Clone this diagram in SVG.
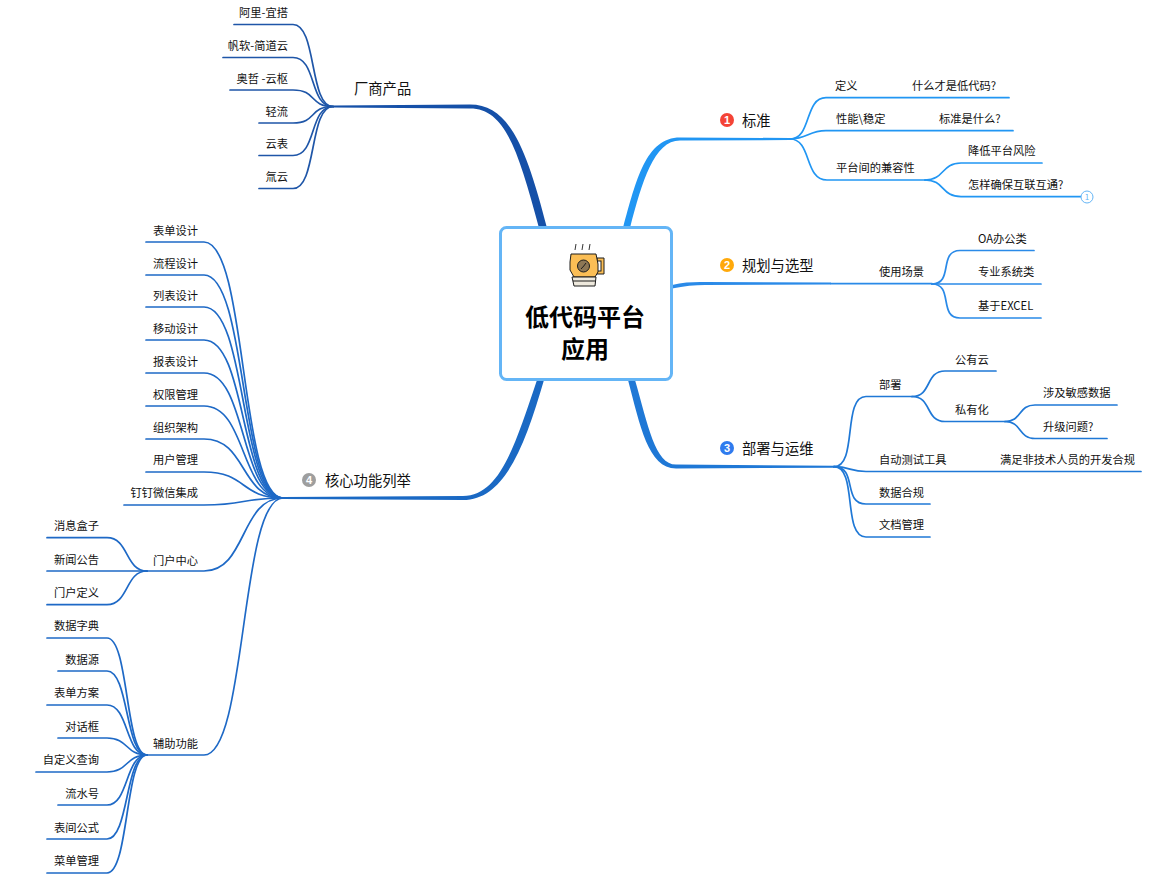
<svg xmlns="http://www.w3.org/2000/svg" width="1165" height="882" viewBox="0 0 1165 882">
<style>
text{font-family:"Noto Sans CJK SC","Noto Sans",sans-serif;font-size:11.25px;fill:#111;transform:translateY(.5px)}
.e{text-anchor:end}
.t{font-size:14.3px}
.r{font-size:24px;font-weight:700;text-anchor:middle;fill:#000;transform:none}
.n{font-size:11px;font-weight:700;fill:#fff;text-anchor:middle;font-family:"Liberation Sans",sans-serif;transform:none}
path.l{fill:none;stroke-width:1.7;stroke-linecap:round}
.a{stroke:#2196f3}.b{stroke:#2a8ae8}.c{stroke:#1f78d6}.d{stroke:#1e69c6}.f{stroke:#1f56a8}
</style>
<rect width="1165" height="882" fill="#fff"/>
<g id="connectors">
<path fill="#2196f3" d="M623,228C636,180 646,137.500 680,137.500L790,138V140L680,140.600C654,140.600 642,182 630,228Z"/>
<path fill="#1550a8" d="M539,228C518,150 505,108.500 470,108.500L333,107.500V105.500L470,104.600C510,104.600 527,150 547,228Z"/>
<path fill="#1a69c4" d="M537,380C515,445 500,496 463,496L283,497V499L463,500C505,500 525,445 544,380Z"/>
<path fill="#2a8ae8" d="M672,285C684,282 695,281.800 705,282L831,282.600V284.600L705,285C695,285 684,286 672,288.500Z"/>
<path fill="#1f78d6" d="M628,380C640,425 648,468.500 676,468.500L834,467.700V465.700L676,464.600C655,464.600 648,425 635,380Z"/>
<g>
<path class="l a" d="M790,139C812,139 804,97.700 826,97.700H1009"/>
<path class="l a" d="M790,139C808,139 808,130.700 826,130.700H1013"/>
<path class="l a" d="M790,139C812,139 804,180 827,180H925"/>
<path class="l a" d="M925,180C945,180 941,163 961,163H1042"/>
<path class="l a" d="M925,180C945,180 941,196.700 961,196.700H1081"/>
</g>
<g>
<path class="l b" d="M831,283.600H932"/>
<path class="l b" d="M932,284C954,284 938,250.500 960,250.500H1034"/>
<path class="l b" d="M932,284H1041"/>
<path class="l b" d="M932,284C954,284 938,318 960,318H1041"/>
</g>
<g>
<path class="l c" d="M834,466.700C858,466.700 842,396.500 866,396.500H912"/>
<path class="l c" d="M834,466.700C850,466.700 850,471.500 866,471.500H1141"/>
<path class="l c" d="M834,466.700C858,466.700 842,504 866,504H930"/>
<path class="l c" d="M834,466.700C858,466.700 842,537 866,537H930"/>
<path class="l c" d="M912,396.500C932,396.500 925,371 945,371H996"/>
<path class="l c" d="M912,396.500C932,396.500 925,421.500 945,421.500H1005"/>
<path class="l c" d="M1005,421.500C1022,421.500 1018,405 1035,405H1117"/>
<path class="l c" d="M1005,421.500C1022,421.500 1018,438.500 1035,438.500H1107"/>
</g>
<g>
<path class="l f" d="M333,106.500C309,106.500 317,24.500 293,24.500H234"/>
<path class="l f" d="M333,106.500C309,106.500 317,57.500 293,57.500H223"/>
<path class="l f" d="M333,106.500C309,106.500 317,90 293,90H230"/>
<path class="l f" d="M333,106.500C309,106.500 317,123 293,123H259"/>
<path class="l f" d="M333,106.500C309,106.500 317,155.500 293,155.500H259"/>
<path class="l f" d="M333,106.500C309,106.500 317,188.500 293,188.500H259"/>
</g>
<g>
<path class="l d" d="M283,498C240,498 247,242 204,242H146"/>
<path class="l d" d="M283,498C240,498 247,275 204,275H146"/>
<path class="l d" d="M283,498C240,498 247,307 204,307H146"/>
<path class="l d" d="M283,498C240,498 247,340 204,340H146"/>
<path class="l d" d="M283,498C240,498 247,373 204,373H146"/>
<path class="l d" d="M283,498C240,498 247,406 204,406H146"/>
<path class="l d" d="M283,498C240,498 247,439 204,439H146"/>
<path class="l d" d="M283,498C240,498 247,472 204,472H146"/>
<path class="l d" d="M283,498C240,498 247,505 204,505H124"/>
<path class="l d" d="M283,498C240,498 247,571 204,571H147"/>
<path class="l d" d="M283,498C240,498 247,755 204,755H147"/>
<path class="l d" d="M147,571C125,571 129,537.700 107,537.700H47"/>
<path class="l d" d="M147,571H47"/>
<path class="l d" d="M147,571C125,571 129,604.700 107,604.700H47"/>
<path class="l d" d="M147,755C125,755 129,638 107,638H47"/>
<path class="l d" d="M147,755C125,755 129,671 107,671H58"/>
<path class="l d" d="M147,755C125,755 129,705 107,705H47"/>
<path class="l d" d="M147,755C125,755 129,738 107,738H58"/>
<path class="l d" d="M147,755C125,755 129,772 107,772H36"/>
<path class="l d" d="M147,755C125,755 129,805 107,805H58"/>
<path class="l d" d="M147,755C125,755 129,839 107,839H47"/>
<path class="l d" d="M147,755C125,755 129,873 107,873H47"/>
</g>
</g>
<g id="root">
<rect x="500.500" y="227.500" width="171" height="152" rx="6" fill="#fff" stroke="#64b5f6" stroke-width="3"/>
<g stroke="#1c1c1c" stroke-width="1">
<path d="M575,250l1,-6M582,250l1,-6M589,250l1,-6" fill="none" stroke="#333"/>
<path d="M597,258H604V274H597Z" fill="#fbbe55"/><rect x="597" y="261" width="4" height="10" fill="#fff"/>
<path d="M571,254H596L598,264V272L595,277H574L570,270V262Z" fill="#fbbe55"/>
<ellipse cx="583.500" cy="266" rx="6" ry="6" fill="#8d7755"/><path d="M581,269Q584,266 586,263" fill="none"/>
<path d="M572,277H596L595,286H574Z" fill="#eee9dd"/><path d="M573,281H595" fill="none"/>
</g>
<text class="r" x="585" y="326">低代码平台</text>
<text class="r" x="585" y="358">应用</text>
</g>
<g id="n1"><circle cx="727" cy="120" r="7" fill="#f44336"/><text class="n" x="727" y="124">1</text><text class="t" x="742" y="125">标准</text></g>
<g id="n1-1"><text x="835" y="89">定义</text></g>
<g id="n1-1-1"><text x="912" y="89">什么才是低代码?</text></g>
<g id="n1-2"><text x="836" y="122">性能\稳定</text></g>
<g id="n1-2-1"><text x="939" y="122">标准是什么?</text></g>
<g id="n1-3"><text x="836" y="171">平台间的兼容性</text></g>
<g id="n1-3-1"><text x="968" y="154">降低平台风险</text></g>
<g id="n1-3-2"><text x="968" y="188">怎样确保互联互通?</text></g>
<g id="n1-3-2-badge"><circle cx="1087" cy="197" r="6" fill="#fff" stroke="#64b5f6"/><text x="1087" y="199.500" text-anchor="middle" style="font-size:8px;fill:#64b5f6">1</text></g>
<g id="n2"><circle cx="727" cy="265" r="7" fill="#ffa90a"/><text class="n" x="727" y="269">2</text><text class="t" x="742" y="270">规划与选型</text></g>
<g id="n2-1"><text x="879" y="275">使用场景</text></g>
<g id="n2-1-1"><text x="978" y="242">OA办公类</text></g>
<g id="n2-1-2"><text x="978" y="275">专业系统类</text></g>
<g id="n2-1-3"><text x="978" y="309">基于EXCEL</text></g>
<g id="n3"><circle cx="727" cy="448" r="7" fill="#2f7bee"/><text class="n" x="727" y="452">3</text><text class="t" x="742" y="453">部署与运维</text></g>
<g id="n3-1"><text x="879" y="388">部署</text></g>
<g id="n3-1-1"><text x="955" y="363">公有云</text></g>
<g id="n3-1-2"><text x="955" y="413">私有化</text></g>
<g id="n3-1-2-1"><text x="1043" y="396">涉及敏感数据</text></g>
<g id="n3-1-2-2"><text x="1043" y="430">升级问题?</text></g>
<g id="n3-2"><text x="879" y="463">自动测试工具</text></g>
<g id="n3-2-1"><text x="1000" y="463">满足非技术人员的开发合规</text></g>
<g id="n3-3"><text x="879" y="496">数据合规</text></g>
<g id="n3-4"><text x="879" y="528">文档管理</text></g>
<g id="n5"><text class="t" x="354" y="93">厂商产品</text></g>
<g id="n5-1"><text class="e" x="288" y="16">阿里-宜搭</text></g>
<g id="n5-2"><text class="e" x="288" y="49">帆软-简道云</text></g>
<g id="n5-3"><text class="e" x="288" y="82">奥哲 -云枢</text></g>
<g id="n5-4"><text class="e" x="288" y="115">轻流</text></g>
<g id="n5-5"><text class="e" x="288" y="147">云表</text></g>
<g id="n5-6"><text class="e" x="288" y="180">氚云</text></g>
<g id="n4"><circle cx="309" cy="480" r="7" fill="#9e9e9e"/><text class="n" x="309" y="484">4</text><text class="t" x="325" y="485">核心功能列举</text></g>
<g id="n4-1"><text class="e" x="198" y="234">表单设计</text></g>
<g id="n4-2"><text class="e" x="198" y="267">流程设计</text></g>
<g id="n4-3"><text class="e" x="198" y="299">列表设计</text></g>
<g id="n4-4"><text class="e" x="198" y="332">移动设计</text></g>
<g id="n4-5"><text class="e" x="198" y="365">报表设计</text></g>
<g id="n4-6"><text class="e" x="198" y="398">权限管理</text></g>
<g id="n4-7"><text class="e" x="198" y="431">组织架构</text></g>
<g id="n4-8"><text class="e" x="198" y="463">用户管理</text></g>
<g id="n4-9"><text class="e" x="198" y="496">钉钉微信集成</text></g>
<g id="n4-10"><text class="e" x="198" y="564">门户中心</text></g>
<g id="n4-10-1"><text class="e" x="99" y="529">消息盒子</text></g>
<g id="n4-10-2"><text class="e" x="99" y="563">新闻公告</text></g>
<g id="n4-10-3"><text class="e" x="99" y="596">门户定义</text></g>
<g id="n4-11"><text class="e" x="198" y="747">辅助功能</text></g>
<g id="n4-11-1"><text class="e" x="99" y="629">数据字典</text></g>
<g id="n4-11-2"><text class="e" x="99" y="663">数据源</text></g>
<g id="n4-11-3"><text class="e" x="99" y="696">表单方案</text></g>
<g id="n4-11-4"><text class="e" x="99" y="730">对话框</text></g>
<g id="n4-11-5"><text class="e" x="99" y="763">自定义查询</text></g>
<g id="n4-11-6"><text class="e" x="99" y="797">流水号</text></g>
<g id="n4-11-7"><text class="e" x="99" y="831">表间公式</text></g>
<g id="n4-11-8"><text class="e" x="99" y="864">菜单管理</text></g>
</svg>
